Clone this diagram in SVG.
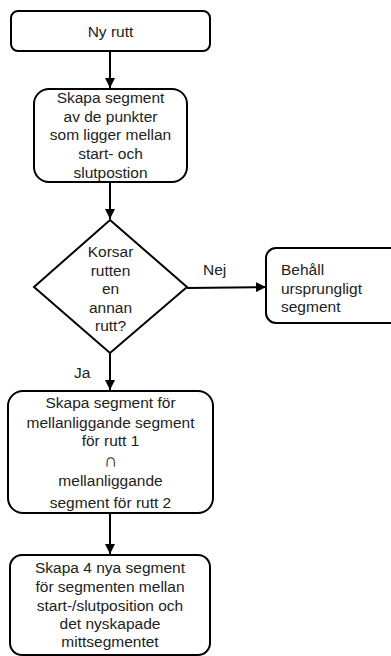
<svg xmlns="http://www.w3.org/2000/svg" width="391" height="656" viewBox="0 0 391 656">
<defs>
<style>
.n{fill:#fff;stroke:#000;stroke-width:2}
.t{font-family:"Liberation Sans",Arial,sans-serif;font-size:15.5px;fill:#222;text-anchor:middle}
.l{text-anchor:start}
.sym{font-size:19px}
.c{fill:none;stroke:#000;stroke-width:2}
</style>
<marker id="ah" viewBox="0 0 10 10" refX="10" refY="5" markerWidth="10" markerHeight="10" markerUnits="userSpaceOnUse" orient="auto">
<path d="M0,0 L10,5 L0,10 z" fill="#000"/>
</marker>
</defs>
<rect width="391" height="656" fill="#fff"/>
<g id="connectors">
<line class="c" x1="110" y1="51" x2="110" y2="88" marker-end="url(#ah)"/>
<line class="c" x1="110" y1="182" x2="110" y2="219" marker-end="url(#ah)"/>
<line class="c" x1="187" y1="288" x2="266" y2="287" marker-end="url(#ah)"/>
<line class="c" x1="110" y1="353" x2="110" y2="390" marker-end="url(#ah)"/>
<line class="c" x1="110" y1="513" x2="110" y2="554" marker-end="url(#ah)"/>
<text class="t l" x="203" y="275">Nej</text>
<text class="t l" x="74" y="378">Ja</text>
</g>
<g id="ny-rutt">
<rect class="n" x="11" y="11" width="199" height="40" rx="7"/>
<text class="t" x="110.5" y="37">Ny rutt</text>
</g>
<g id="skapa-segment">
<rect class="n" x="34" y="89" width="153" height="93" rx="15"/>
<text class="t" x="110.5" y="103">Skapa segment</text>
<text class="t" x="110.5" y="121.5">av de punkter</text>
<text class="t" x="110.5" y="140">som ligger mellan</text>
<text class="t" x="110.5" y="158.5">start- och</text>
<text class="t" x="110.5" y="177.5">slutpostion</text>
</g>
<g id="korsar">
<polygon class="n" points="110,220 187,287 110,353 34,287"/>
<text class="t" x="110.5" y="257">Korsar</text>
<text class="t" x="110.5" y="275.5">rutten</text>
<text class="t" x="110.5" y="294">en</text>
<text class="t" x="110.5" y="312.5">annan</text>
<text class="t" x="110.5" y="331">rutt?</text>
</g>
<g id="behall">
<rect class="n" x="266" y="248" width="140" height="75" rx="10"/>
<text class="t l" x="281" y="275">Behåll</text>
<text class="t l" x="281" y="293.5">ursprungligt</text>
<text class="t l" x="281" y="312">segment</text>
</g>
<g id="skapa-mellan">
<rect class="n" x="8" y="391" width="205" height="122" rx="15"/>
<text class="t" x="110.5" y="408">Skapa segment för</text>
<text class="t" x="110.5" y="427.5">mellanliggande segment</text>
<text class="t" x="110.5" y="446">för rutt 1</text>
<text class="t sym" x="110.5" y="467">∩</text>
<text class="t" x="110.5" y="486">mellanliggande</text>
<text class="t" x="110.5" y="508">segment för rutt 2</text>
</g>
<g id="skapa-4">
<rect class="n" x="10" y="555" width="200" height="100" rx="12"/>
<text class="t" x="110" y="573">Skapa 4 nya segment</text>
<text class="t" x="110" y="592">för segmenten mellan</text>
<text class="t" x="110" y="610.5">start-/slutposition och</text>
<text class="t" x="110" y="629">det nyskapade</text>
<text class="t" x="110" y="647">mittsegmentet</text>
</g>
</svg>
